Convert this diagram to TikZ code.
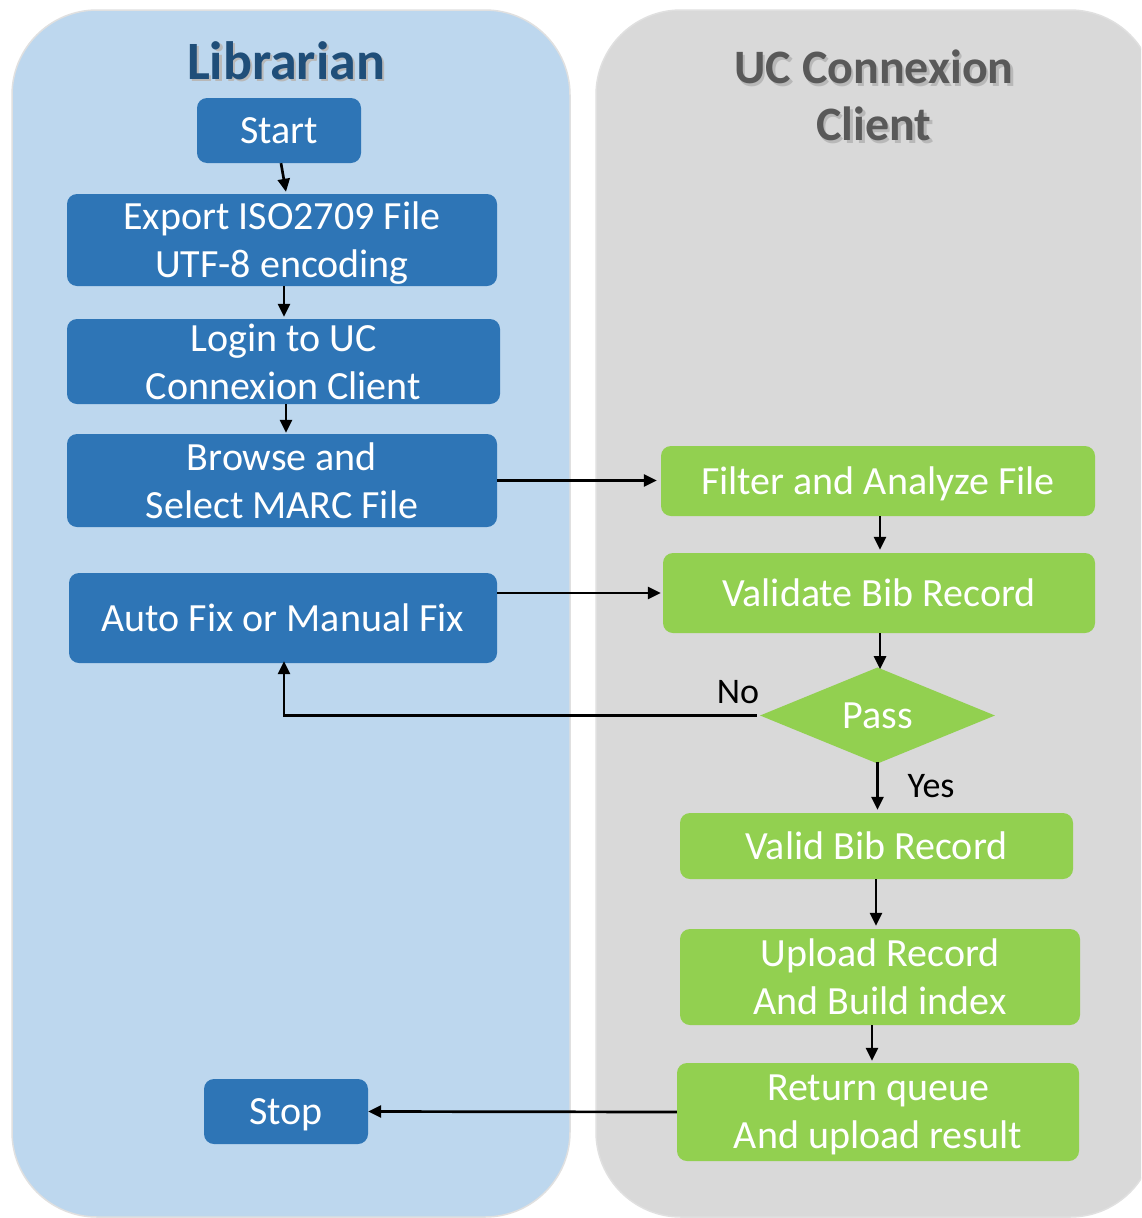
\documentclass[tikz,border=0pt]{standalone}
\usepackage{fontspec}
\setmainfont{Carlito}
\usetikzlibrary{arrows.meta,shapes.geometric}
\definecolor{laneblue}{HTML}{BDD7EE}
\definecolor{lanegrey}{HTML}{D9D9D9}
\definecolor{boxblue}{HTML}{2E75B6}
\definecolor{boxgreen}{HTML}{92D050}
\definecolor{titleblue}{HTML}{1F4E79}
\definecolor{titlegrey}{HTML}{595959}
\newcommand{\shadowedtext}[2]{\makebox[0pt][l]{\hspace{2.5pt}\raisebox{-2.5pt}{\textcolor{black!28}{#2}}}\textcolor{#1}{#2}}
\begin{document}
\begin{tikzpicture}[x=1pt,y=-1pt,
  lane/.style={rounded corners=85pt, draw=black!12, line width=1.5pt},
  boxbase/.style={rectangle, rounded corners=10pt, text=white, align=center,
    font=\fontsize{40}{48}\selectfont, inner sep=0pt, text depth=0pt},
  bluebox/.style={boxbase, fill=boxblue},
  greenbox/.style={boxbase, fill=boxgreen},
  decision/.style={diamond, fill=boxgreen, text=white, inner sep=0pt,
    font=\fontsize{40}{48}\selectfont},
  titletext/.style={align=center, inner sep=0pt},
  arr/.style={draw=black, line width=2.7pt, -{Triangle[length=13pt,width=12pt]}},
  lbl/.style={font=\fontsize{36}{40}\selectfont, text=black, inner sep=0pt}
]
\useasboundingbox (0,0) rectangle (1141,1218);
\clip (0,0) rectangle (1141,1218);
\fill[white] (0,0) rectangle (1141,1218);

% lanes
\filldraw[lane, fill=laneblue] (12,10) rectangle (570,1217);
\filldraw[lane, fill=lanegrey] (596,10) rectangle (1155,1217);

% titles
\node[titletext, font=\fontsize{54}{60}\selectfont\bfseries] (tl) at (286,62) {\shadowedtext{titleblue}{Librarian}};
\node[titletext, font=\fontsize{48}{57}\selectfont\bfseries] (tr) at (874,97) {\shadowedtext{titlegrey}{UC Connexion}\\\shadowedtext{titlegrey}{Client}};

% librarian nodes
\node[bluebox, minimum width=164pt, minimum height=65pt] (start) at (279,130.5) {Start};
\node[bluebox, minimum width=430pt, minimum height=92pt] (export) at (282,240) {Export ISO2709 File\\UTF-8 encoding};
\node[bluebox, minimum width=433pt, minimum height=85pt] (login) at (283.5,361.5) {Login to UC\\Connexion Client};
\node[bluebox, minimum width=430pt, minimum height=93pt] (browse) at (282,480.5) {Browse and\\Select MARC File};
\node[bluebox, minimum width=428pt, minimum height=90pt] (autofix) at (283,618) {Auto Fix or Manual Fix};
\node[bluebox, minimum width=164pt, minimum height=65pt] (stop) at (286,1111.5) {Stop};

% client nodes
\node[greenbox, minimum width=434pt, minimum height=70pt] (filter) at (878,481) {Filter and Analyze File};
\node[greenbox, minimum width=432pt, minimum height=80pt] (validate) at (879,593) {Validate Bib Record};
\node[decision, minimum width=235pt, minimum height=95pt] (pass) at (877.5,715.5) {Pass};
\node[greenbox, minimum width=393pt, minimum height=66pt] (valid) at (876.5,846) {Valid Bib Record};
\node[greenbox, minimum width=400pt, minimum height=96pt] (upload) at (880,977) {Upload Record\\And Build index};
\node[greenbox, minimum width=402pt, minimum height=98pt] (ret) at (878,1112) {Return queue\\And upload result};

% connectors
\draw[arr] ([xshift=2pt]start.south) -- ([xshift=4pt,yshift=2pt]export.north);
\draw[arr] ([xshift=2pt]export.south) -- ([xshift=0.5pt,yshift=2pt]login.north);
\draw[arr] ([xshift=2.5pt]login.south) -- ([xshift=2.5pt,yshift=1pt]login.south |- browse.north);
\draw[arr] (browse.east) -- ([xshift=-4pt]filter.west |- browse.east);
\draw[arr] (autofix.east |- validate.west) -- ([xshift=-2pt]validate.west);
\draw[arr] ([xshift=2pt]filter.south) -- ([xshift=2pt,yshift=3pt]filter.south |- validate.north);
\draw[arr] ([xshift=1pt]validate.south) -- ([xshift=2.5pt,yshift=-2pt]pass.north);
\draw[arr] ([xshift=-3pt]pass.west) -| ([xshift=1pt,yshift=2pt]autofix.south);
\draw[arr] ([yshift=2pt]pass.south) -- ([yshift=3pt]pass.south |- valid.north);
\draw[arr] ([xshift=-0.5pt]valid.south) -- ([xshift=-0.5pt,yshift=3pt]valid.south |- upload.north);
\draw[arr] ([xshift=-8pt]upload.south) -- ([xshift=-8pt,yshift=2pt]upload.south |- ret.north);
\draw[arr] (ret.west) -- (stop.east);

% labels
\node[lbl] (no) at (738,692) {No};
\node[lbl] (yes) at (931,786) {Yes};
\end{tikzpicture}
\end{document}
